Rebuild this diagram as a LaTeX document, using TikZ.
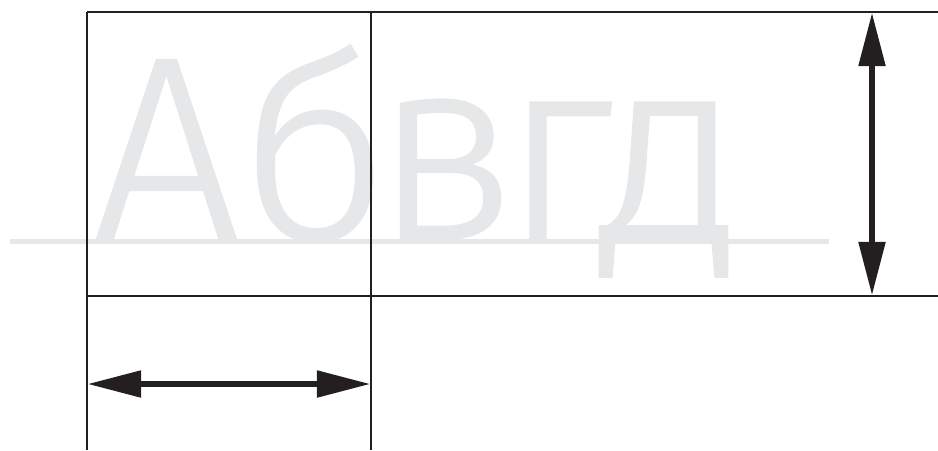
\documentclass[tikz,border=0pt]{standalone}
\usepackage{fontspec}
\usetikzlibrary{arrows.meta}
\newfontfamily\lettfont[FakeBold=0.8]{Fira Sans Light}
\definecolor{inkblack}{HTML}{231F20}
\definecolor{ghost}{HTML}{E6E7E8}
\tikzset{
  gridline/.style={draw=inkblack, line width=1.6pt},
  baseguide/.style={draw=ghost, line width=3.6pt},
  dimarrow/.style={draw=inkblack, line width=4pt,
    {Triangle[length=40pt,width=19.5pt]}-{Triangle[length=40pt,width=19.5pt]}},
  letter/.style={anchor=base, inner sep=0pt, text=ghost,
    font=\lettfont\fontsize{196}{200}\selectfont}
}
\begin{document}
\begin{tikzpicture}[x=0.75pt,y=-0.75pt]
\useasboundingbox (0,0) rectangle (938,450);
% letters
\node[letter] (l1) at (166.5,239) {А};
\node[letter] (l2) at (315,239) {б};
\node[letter] (l3) at (445,239) {в};
\node[letter] (l4) at (558,239) {г};
\node[letter] (l5) at (670,239) {д};
% baseline guide
\coordinate (gA) at (10,241.3);
\coordinate (gB) at (829,241.3);
\draw[baseguide] (gA) -- (gB);
% grid
\coordinate (TL) at (87,12);
\coordinate (TM) at (371,12);
\coordinate (TR) at (938,12);
\coordinate (ML) at (87,296);
\coordinate (MM) at (371,296);
\coordinate (MR) at (938,296);
\coordinate (BL) at (87,450);
\coordinate (BM) at (371,450);
\draw[gridline] (TL) -- (TR);
\draw[gridline] (ML) -- (MR);
\draw[gridline] (TL) -- (BL);
\draw[gridline] (TM) -- (BM);
% dimension arrows
\coordinate (vA) at (872,12.8);
\coordinate (vB) at (872,295.2);
\draw[dimarrow] (vA) -- (vB);
\coordinate (hA) at (87.8,384);
\coordinate (hB) at (370.2,384);
\draw[dimarrow] (hA) -- (hB);
\end{tikzpicture}
\end{document}
